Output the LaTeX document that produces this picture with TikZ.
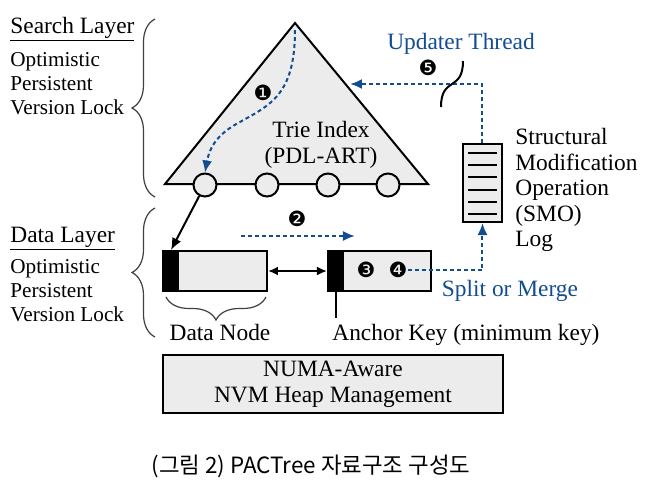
\documentclass[tikz,border=0pt]{standalone}
\usepackage{fontspec}
\setmainfont{Liberation Serif}
\newfontfamily\dingfont{DejaVu Sans}
\newfontfamily\krfont{Noto Sans CJK KR}
\usetikzlibrary{decorations.pathreplacing,arrows.meta}
\definecolor{flowblue}{RGB}{18,76,145}
\definecolor{boxgray}{RGB}{236,236,236}

\begin{document}
\begin{tikzpicture}
  [x=.5pt, y=-.5pt, >={Latex[length=6pt,width=5pt]},
   lbl/.style={font=\fontsize{11.7}{12}\selectfont, inner sep=0pt, align=left},
   lock/.style={font=\fontsize{10.6}{12}\selectfont, inner sep=0pt, align=left},
   txt/.style={font=\fontsize{11.7}{12.8}\selectfont, inner sep=0pt, align=center},
   stepno/.style={font=\dingfont\fontsize{10.5}{11}\selectfont, inner sep=0pt},
   flow/.style={flowblue, line width=1pt, dash pattern=on 2pt off 1.5pt},
   brc/.style={decorate, decoration={brace, amplitude=11.5pt}, line width=.6pt, black!75},
   leaf/.style={circle, draw, fill=boxgray, line width=1pt, minimum size=11.5pt, inner sep=0pt},
   node box/.style={draw, fill=boxgray, line width=1pt, minimum width=52pt, minimum height=20pt, inner sep=0pt}]
  \useasboundingbox (0,0) rectangle (645,484);

  % search layer
  \node[lbl, anchor=base west] (slayer) at (10,33) {\underline{Search Layer}};
  \node[lock, anchor=north west] (slock) at (10,52.5) {Optimistic\\Persistent\\Version Lock};
  \draw[brc] (155,197) -- (155,19);

  \draw[fill=boxgray, line width=1pt, line join=miter] (295,23) -- (428,184) -- (165,184) -- cycle;
  \foreach \i/\x in {1/205,2/267,3/328,4/388}
  \node[leaf] (c\i) at (\x,185) {};
  \node[txt, anchor=north] (trie) at (321,121) {Trie Index\\(PDL-ART)};
  \node[stepno] (s1) at (263,93) {❶};
  \coordinate (top) at (295,30);
  \draw[flow, ->] (top) .. controls (295,95) and (270,105) .. (240,122)
    .. controls (215,135) and (209,150) .. (c1.north);

  % updater thread and SMO log
  \node[txt, anchor=base, flowblue] (upd) at (461,49) {Updater Thread};
  \node[stepno] (s5) at (428,68) {❺};
  \node[draw, fill=boxgray, line width=1pt, minimum width=19.5pt, minimum height=39pt] (log) at (482.5,183) {};
  \foreach \y in {153,165,177,190,202,214}
  \draw[line width=1pt] (468,\y) -- (497,\y);
  \node[lbl, anchor=north west, font=\fontsize{11.7}{12.75}\selectfont] (smo) at (515,128)
    {Structural\\Modification\\Operation\\(SMO)\\Log};
  \coordinate (tip5) at (350,84);
  \draw[flow, ->] (log.north) |- (tip5);
  \draw[line width=1pt] (463,61) .. controls (463,92) and (441,76) .. (441,107);

  % data layer
  \node[lbl, anchor=base west] (dlayer) at (10,242) {\underline{Data Layer}};
  \node[lock, anchor=north west] (dlock) at (10,259.5) {Optimistic\\Persistent\\Version Lock};
  \draw[brc] (155,337) -- (155,208);

  \node[node box] (dn) at (215,271) {};
  \fill (dn.north west) rectangle ([xshift=8.5pt]dn.south west);
  \node[node box, minimum width=51.5pt] (an) at (379.5,271) {};
  \fill (an.north west) rectangle ([xshift=8.5pt]an.south west);
  \draw[line width=1pt, ->] (c1) -- ([xshift=4.5pt]dn.north west);
  \draw[line width=1pt, {Latex[length=5pt,width=4.5pt]}-{Latex[length=5pt,width=4.5pt]}] (dn.east) -- (an.west);

  \node[stepno] (s2) at (297,219) {❷};
  \coordinate (m0) at (241,236);
  \coordinate (m1) at (355,236);
  \draw[flow, ->] (m0) -- (m1);
  \node[stepno] (s3) at (366,270) {❸};
  \node[stepno] (s4) at (398,270) {❹};
  \draw[flow, ->] (s4.east) -| (log.south);
  \node[txt, anchor=base, flowblue] (split) at (510,296) {Split or Merge};

  \draw[brc] (266,297) -- (166,297);
  \node[txt, anchor=base] (dlabel) at (220,340) {Data Node};
  \draw[line width=.6pt] ([xshift=4.5pt]an.south west) -- ++(0,26);
  \node[txt, anchor=base west] (akey) at (332,340) {Anchor Key (minimum key)};

  % heap
  \node[draw, fill=boxgray, line width=1pt, minimum width=170pt, minimum height=29pt, txt] (heap) at (333,384)
    {NUMA-Aware\\NVM Heap Management};

  \node[font=\krfont\fontsize{11.2}{12}\selectfont, anchor=base, inner sep=0pt] (cap) at (311,473)
    {(그림 2) PACTree 자료구조 구성도};
\end{tikzpicture}
\end{document}
